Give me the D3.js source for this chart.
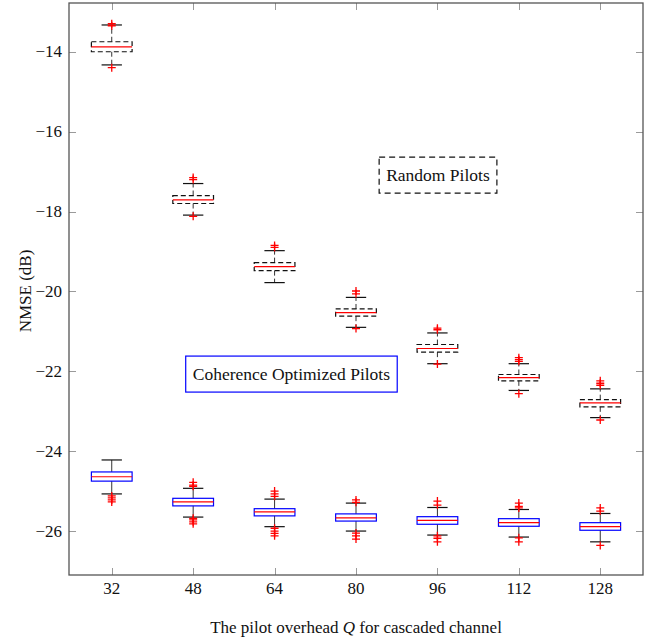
<!DOCTYPE html>
<html>
<head>
<meta charset="utf-8">
<script src="https://cdn.jsdelivr.net/npm/d3@7"></script>
<style>
  body { margin: 0; background: #fff; }
  svg { display: block; }
</style>
</head>
<body>
<svg width="653" height="642" font-family="'Liberation Serif', 'Times New Roman', Tinos, 'DejaVu Serif', serif"></svg>
<script>
// pilot overhead Q
const overhead = [32, 48, 64, 80, 96, 112, 128];

// random pilots (dB)
const randMedian = [-13.88, -17.71, -19.38, -20.53, -21.43, -22.16, -22.79];
const randQ1 = [-14.0, -17.8, -19.48, -20.62, -21.52, -22.24, -22.89];
const randQ3 = [-13.75, -17.6, -19.28, -20.44, -21.33, -22.08, -22.71];
const randLow = [-14.33, -18.09, -19.78, -20.9, -21.81, -22.48, -23.16];
const randHigh = [-13.33, -17.3, -18.98, -20.15, -21.04, -21.81, -22.44];
const randOutliers = [
    [-13.3, -13.35, -14.4],
    [-17.15, -17.2, -18.12],
    [-18.85, -18.9],
    [-19.99, -20.06, -20.93],
    [-20.92, -20.96, -21.82],
    [-21.66, -21.71, -21.75, -22.56],
    [-22.24, -22.3, -22.35, -23.22],
];

// coherence optimized pilots (dB)
const cohMedian = [-24.64, -25.27, -25.52, -25.67, -25.73, -25.79, -25.89];
const cohQ1 = [-24.75, -25.37, -25.62, -25.75, -25.83, -25.88, -25.98];
const cohQ3 = [-24.52, -25.18, -25.44, -25.57, -25.64, -25.69, -25.79];
const cohLow = [-25.07, -25.65, -25.89, -26.0, -26.1, -26.15, -26.27];
const cohHigh = [-24.22, -24.93, -25.2, -25.3, -25.41, -25.46, -25.56];
const cohOutliers = [
    [-25.12, -25.17, -25.22, -25.27],
    [-24.78, -24.85, -24.88, -25.68, -25.72, -25.77, -25.82],
    [-25.0, -25.07, -25.13, -25.93, -26.0, -26.06, -26.12],
    [-25.22, -25.28, -26.05, -26.12, -26.2],
    [-25.25, -25.35, -26.12, -26.18, -26.27],
    [-25.3, -25.38, -25.42, -26.17, -26.27],
    [-25.42, -25.5, -26.36],
];

const yTicks = [-14, -16, -18, -20, -22, -24, -26];

const svg = d3.select("svg");
const plot = { left: 69, right: 643, top: 3, bottom: 575 };

const x = d3.scaleLinear().domain([23.6, 136.4]).range([plot.left, plot.right]);
const y = d3.scaleLinear().domain([-27.1, -12.78]).range([plot.bottom, plot.top]);

const boxHalf = 4;   // Q units
const capHalf = 2;
const tickLen = 7;

// ticks on all four sides
const tickG = svg.append("g").attr("stroke", "#9a9a9a").attr("stroke-width", 1);
overhead.forEach((q) => {
    const px = Math.round(x(q)) + 0.5;
    tickG.append("line").attr("x1", px).attr("x2", px)
        .attr("y1", plot.bottom).attr("y2", plot.bottom - tickLen);
    tickG.append("line").attr("x1", px).attr("x2", px)
        .attr("y1", plot.top).attr("y2", plot.top + tickLen);
});
yTicks.forEach((v) => {
    const py = Math.round(y(v)) + 0.5;
    tickG.append("line").attr("x1", plot.left).attr("x2", plot.left + tickLen)
        .attr("y1", py).attr("y2", py);
    tickG.append("line").attr("x1", plot.right).attr("x2", plot.right - tickLen)
        .attr("y1", py).attr("y2", py);
});

// tick labels
svg.append("g").selectAll("text").data(overhead).join("text")
    .attr("x", (d) => x(d)).attr("y", 594)
    .attr("text-anchor", "middle").attr("font-size", 17).attr("fill", "#111")
    .text((d) => d);
svg.append("g").selectAll("text").data(yTicks).join("text")
    .attr("x", 62).attr("y", (d) => y(d)).attr("dy", "0.33em")
    .attr("text-anchor", "end").attr("font-size", 17).attr("fill", "#111")
    .text((d) => "\u2212" + Math.abs(d));

// axis labels
svg.append("text").attr("x", (plot.left + plot.right) / 2).attr("y", 633)
    .attr("text-anchor", "middle").attr("font-size", 17).attr("fill", "#111")
    .html('The pilot overhead <tspan font-style="italic">Q</tspan> for cascaded channel');
svg.append("text").attr("transform", "translate(31,291) rotate(-90)")
    .attr("text-anchor", "middle").attr("font-size", 17).attr("fill", "#111")
    .text("NMSE (dB)");

// draw one group of boxplots
function drawBoxes(cls, median, q1, q3, low, high, outliers, boxColor, dash) {
    const g = svg.append("g").attr("class", cls);
    overhead.forEach((q, i) => {
        const cx = x(q);
        // whiskers
        g.append("line").attr("x1", cx).attr("x2", cx)
            .attr("y1", y(q3[i])).attr("y2", y(high[i]))
            .attr("stroke", "#333").attr("stroke-dasharray", dash);
        g.append("line").attr("x1", cx).attr("x2", cx)
            .attr("y1", y(q1[i])).attr("y2", y(low[i]))
            .attr("stroke", "#333").attr("stroke-dasharray", dash);
        // caps
        [low[i], high[i]].forEach((v) => {
            g.append("line").attr("x1", x(q - capHalf)).attr("x2", x(q + capHalf))
                .attr("y1", y(v)).attr("y2", y(v))
                .attr("stroke", "#111").attr("stroke-width", 1.2);
        });
        // box
        g.append("rect")
            .attr("x", x(q - boxHalf)).attr("width", x(q + boxHalf) - x(q - boxHalf))
            .attr("y", y(q3[i])).attr("height", y(q1[i]) - y(q3[i]))
            .attr("fill", "none").attr("stroke", boxColor).attr("stroke-width", 1.2)
            .attr("stroke-dasharray", dash);
        // median
        g.append("line").attr("x1", x(q - boxHalf)).attr("x2", x(q + boxHalf))
            .attr("y1", y(median[i])).attr("y2", y(median[i]))
            .attr("stroke", "red").attr("stroke-width", 1.2);
        // outliers
        outliers[i].forEach((v) => {
            const py = y(v);
            g.append("path")
                .attr("d", `M${cx - 4},${py}H${cx + 4}M${cx},${py - 4}V${py + 4}`)
                .attr("stroke", "red").attr("stroke-width", 1.3).attr("fill", "none");
        });
    });
}

drawBoxes("random", randMedian, randQ1, randQ3, randLow, randHigh, randOutliers, "#111", "5,3");
drawBoxes("coherence", cohMedian, cohQ1, cohQ3, cohLow, cohHigh, cohOutliers, "blue", null);

// frame
svg.append("rect")
    .attr("x", plot.left).attr("y", plot.top)
    .attr("width", plot.right - plot.left).attr("height", plot.bottom - plot.top)
    .attr("fill", "none").attr("stroke", "#555").attr("stroke-width", 1.3);

// text annotations
function annotate(label, q, v, stroke, dash) {
    const g = svg.append("g");
    const t = g.append("text").attr("x", x(q)).attr("y", y(v)).attr("dy", "0.33em")
        .attr("text-anchor", "middle").attr("font-size", 17.5).attr("fill", "#111")
        .text(label);
    const bb = t.node().getBBox();
    g.insert("rect", "text")
        .attr("x", bb.x - 7).attr("y", y(v) - 18)
        .attr("width", bb.width + 14).attr("height", 36)
        .attr("fill", "white").attr("stroke", stroke).attr("stroke-width", 1.2)
        .attr("stroke-dasharray", dash);
}
annotate("Random Pilots", 96.1, -17.09, "#111", "6,4");
annotate("Coherence Optimized Pilots", 67.3, -22.07, "blue", null);
</script>
</body>
</html>
